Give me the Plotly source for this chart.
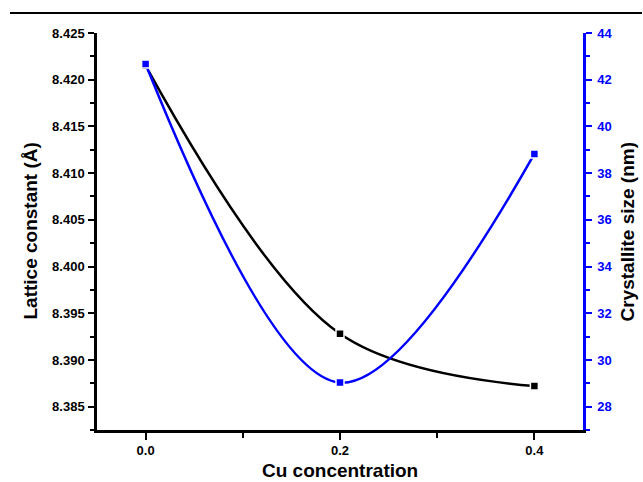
import plotly.graph_objects as go

cu = [0.0, 0.2, 0.4]
lattice = [8.4215, 8.3928, 8.3872]
cryst_size = [42.67, 29.03, 38.82]

x_ticks = [0.0, 0.2, 0.4]
x_ticklabels = ["0.0", "0.2", "0.4"]
y1_ticks = [8.385, 8.390, 8.395, 8.400, 8.405, 8.410, 8.415, 8.420, 8.425]
y1_ticklabels = ["8.385", "8.390", "8.395", "8.400", "8.405", "8.410", "8.415", "8.420", "8.425"]
y2_ticks = [28, 30, 32, 34, 36, 38, 40, 42, 44]
y2_ticklabels = ["28", "30", "32", "34", "36", "38", "40", "42", "44"]

x_title = "Cu concentration"
y1_title = "Lattice constant (Å)"
y2_title = "Crystallite size (nm)"

BLUE = "#0000ff"
FONT = "Liberation Sans, Arial, sans-serif"

# plot area in pixels (for placing annotation titles)
L, R, T, B = 97, 60, 33, 52
W, H = 643, 482
PW, PH = W - L - R, H - T - B


def bold(labels):
    return ["<b>%s</b>" % s for s in labels]


fig = go.Figure()
fig.add_trace(go.Scatter(
    x=cu, y=lattice, mode="lines+markers",
    line=dict(color="black", width=2.5, shape="spline", smoothing=1),
    marker=dict(symbol="square", size=8, color="black", line=dict(color="white", width=1.5)),
    xaxis="x", yaxis="y", showlegend=False))
fig.add_trace(go.Scatter(
    x=cu, y=cryst_size, mode="lines+markers",
    line=dict(color=BLUE, width=2.5, shape="spline", smoothing=1),
    marker=dict(symbol="square", size=8, color=BLUE, line=dict(color="white", width=1.5)),
    xaxis="x", yaxis="y2", showlegend=False))

tickfont = dict(family=FONT, size=13, color="black")
titlefont = dict(family=FONT, size=19, color="black")

fig.update_layout(
    width=W, height=H,
    margin=dict(l=L, r=R, t=T, b=B, autoexpand=False),
    paper_bgcolor="white", plot_bgcolor="white",
    font=dict(family=FONT),
    xaxis=dict(
        range=[-0.05, 0.45], tickvals=x_ticks, ticktext=bold(x_ticklabels),
        automargin=False,
        showline=True, linecolor="black", linewidth=2.5,
        ticks="outside", ticklen=7, tickwidth=2, tickcolor="black",
        minor=dict(dtick=0.1, tick0=0, ticks="outside", ticklen=5, tickwidth=2, tickcolor="black"),
        showgrid=False, zeroline=False, tickfont=tickfont,
    ),
    xaxis2=dict(
        overlaying="x", side="top", matches="x", range=[-0.05, 0.45],
        tickvals=x_ticks, showticklabels=False, automargin=False,
        showline=True, linecolor="black", linewidth=2.5,
        ticks="inside", ticklen=6, tickwidth=2, tickcolor="black",
        minor=dict(dtick=0.1, tick0=0, ticks="inside", ticklen=5, tickwidth=2, tickcolor="black"),
        showgrid=False, zeroline=False,
    ),
    yaxis=dict(
        range=[8.3825, 8.425], tickvals=y1_ticks, ticktext=bold(y1_ticklabels),
        automargin=False, ticklabelstandoff=1,
        showline=True, linecolor="black", linewidth=2.5,
        ticks="outside", ticklen=6, tickwidth=2, tickcolor="black",
        minor=dict(dtick=0.0025, tick0=8.385, ticks="outside", ticklen=4, tickwidth=2, tickcolor="black"),
        showgrid=False, zeroline=False, tickfont=tickfont,
    ),
    yaxis2=dict(
        overlaying="y", side="right", range=[27, 44], tickvals=y2_ticks,
        ticktext=bold(y2_ticklabels), automargin=False, ticklabelstandoff=3,
        showline=True, linecolor=BLUE, linewidth=2.5,
        ticks="outside", ticklen=6, tickwidth=2, tickcolor=BLUE,
        minor=dict(dtick=1, tick0=0, ticks="outside", ticklen=4, tickwidth=2, tickcolor=BLUE),
        showgrid=False, zeroline=False,
        tickfont=dict(family=FONT, size=13, color=BLUE),
    ),
    annotations=[
        dict(text="<b>%s</b>" % x_title, xref="paper", yref="paper",
             x=(340 - L) / PW, y=1 - (470 - T) / PH, xanchor="center", yanchor="middle",
             showarrow=False, font=titlefont),
        dict(text="<b>%s</b>" % y1_title, xref="paper", yref="paper",
             x=(30 - L) / PW, y=0.5, xanchor="center", yanchor="middle", textangle=-90,
             showarrow=False, font=titlefont),
        dict(text="<b>%s</b>" % y2_title, xref="paper", yref="paper",
             x=(627 - L) / PW, y=0.5, xanchor="center", yanchor="middle", textangle=-90,
             showarrow=False, font=titlefont),
    ],
    shapes=[dict(type="line", xref="paper", yref="paper",
                 x0=(10 - L) / PW, x1=(642 - L) / PW,
                 y0=1 + (T - 13) / PH, y1=1 + (T - 13) / PH,
                 line=dict(color="black", width=2))],
)

fig.write_html("out.html")
